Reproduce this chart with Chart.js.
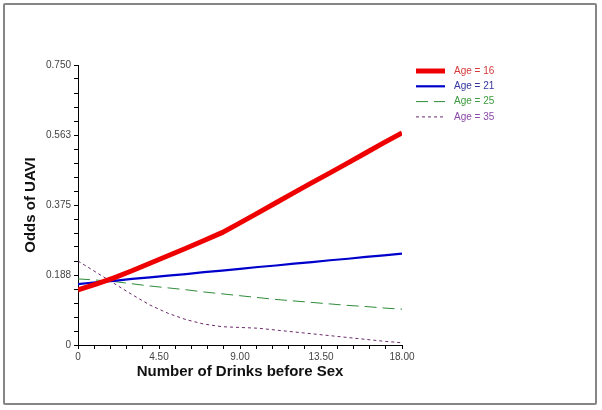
<!DOCTYPE html>
<html>
<head>
<meta charset="utf-8">
<script src="https://cdn.jsdelivr.net/npm/chart.js"></script>
<style>
body{margin:0;background:#fff;}
#frame{position:absolute;left:3px;top:3px;width:594px;height:402px;border:2px solid #858585;border-radius:2px;box-sizing:border-box;}
canvas{position:absolute;left:0;top:0;}
</style>
</head>
<body>
<div id="frame"></div>
<canvas id="myChart" width="602" height="410"></canvas>
<script>
// values
const drinks = [0,1,2,3,4,5,6,7,8,9,10,11,12,13,14,15,16,17,18];
const age16 = [0.148,0.163,0.180,0.199,0.219,0.239,0.259,0.280,0.301,0.327,0.354,0.381,0.408,0.435,0.461,0.488,0.515,0.542,0.568];
const age21 = [0.163,0.168,0.172,0.177,0.181,0.186,0.190,0.195,0.199,0.204,0.209,0.213,0.218,0.222,0.227,0.231,0.236,0.240,0.245];
const age25 = [0.177,0.174,0.170,0.164,0.158,0.153,0.148,0.142,0.137,0.132,0.127,0.122,0.118,0.114,0.110,0.106,0.103,0.099,0.096];
const age35 = [0.225,0.195,0.165,0.135,0.107,0.085,0.068,0.056,0.049,0.047,0.045,0.040,0.035,0.030,0.025,0.020,0.015,0.010,0.006];
const seriesNames = ['Age = 16','Age = 21','Age = 25','Age = 35'];
const xTickLabels = ['0','4.50','9.00','13.50','18.00'];
const yTickLabels = ['0','0.188','0.375','0.563','0.750'];

function pts(arr){
    return drinks.map((d,i) => ({x:d, y:arr[i]}));
}

// legend drawn by hand, top right, text coloured like the line
const sideLegend = {
    id:'sideLegend',
    afterDraw(chart){
        const ctx = chart.ctx;
        const txtColors = ['#d43a3a','#3535a0','#3c9a3c','#8a48a8'];
        ctx.save();
        chart.data.datasets.forEach((ds,i) => {
            const y = 71 + i*15.3;
            ctx.strokeStyle = ds.borderColor;
            ctx.lineWidth = ds.borderWidth;
            ctx.setLineDash(ds.borderDash || []);
            ctx.beginPath();
            ctx.moveTo(416,y);
            ctx.lineTo(445,y);
            ctx.stroke();
            ctx.setLineDash([]);
            ctx.fillStyle = txtColors[i];
            ctx.font = '10px "Liberation Sans", Arial, sans-serif';
            ctx.textBaseline = 'middle';
            ctx.fillText(seriesNames[i], 454, y);
        });
        ctx.restore();
    }
};

new Chart(document.getElementById("myChart"), {
    type: 'line',
    data: {
      datasets: [
        {label: seriesNames[0], data: pts(age16), borderColor:'#ee0000', borderWidth:5},
        {label: seriesNames[1], data: pts(age21), borderColor:'#0000cc', borderWidth:2.2},
        {label: seriesNames[2], data: pts(age25), borderColor:'#2e8b3a', borderWidth:1, borderDash:[12,6]},
        {label: seriesNames[3], data: pts(age35), borderColor:'#6a2a6a', borderWidth:1, borderDash:[3,3]}
      ]
    },
    options: {
      responsive:false,
      animation:false,
      elements:{ point:{radius:0}, line:{tension:0, borderCapStyle:'butt'} },
      layout:{ padding:{left:0, top:65, right:200, bottom:0} },
      plugins:{ legend:{display:false}, tooltip:{enabled:false} },
      scales:{
        x:{
          type:'linear', min:0, max:18,
          afterFit(s){ s.height = 65; },
          border:{color:'#000', width:1},
          grid:{drawOnChartArea:false, tickLength:4, color:'#000'},
          ticks:{
            stepSize:0.9, autoSkip:false, maxRotation:0, padding:2,
            color:'#444', font:{size:10, family:'"Liberation Sans", Arial, sans-serif'},
            callback:(v,i) => i%5===0 ? xTickLabels[i/5] : ''
          },
          title:{display:true, text:'Number of Drinks before Sex', color:'#111',
                 font:{size:15, weight:'bold', family:'"Liberation Sans", Arial, sans-serif'},
                 padding:{top:0, bottom:29}}
        },
        y:{
          type:'linear', min:0, max:0.75,
          afterFit(s){ s.width = 78; },
          border:{color:'#000', width:1},
          grid:{drawOnChartArea:false, tickLength:4, color:'#000'},
          ticks:{
            stepSize:0.0375, autoSkip:false, padding:3,
            color:'#444', font:{size:10, family:'"Liberation Sans", Arial, sans-serif'},
            callback:(v,i) => i%5===0 ? yTickLabels[i/5] : ''
          },
          title:{display:true, text:'Odds of UAVI', color:'#111',
                 font:{size:15, weight:'bold', family:'"Liberation Sans", Arial, sans-serif'},
                 padding:{top:22, bottom:0}}
        }
      }
    },
    plugins:[sideLegend]
});
</script>
</body>
</html>
